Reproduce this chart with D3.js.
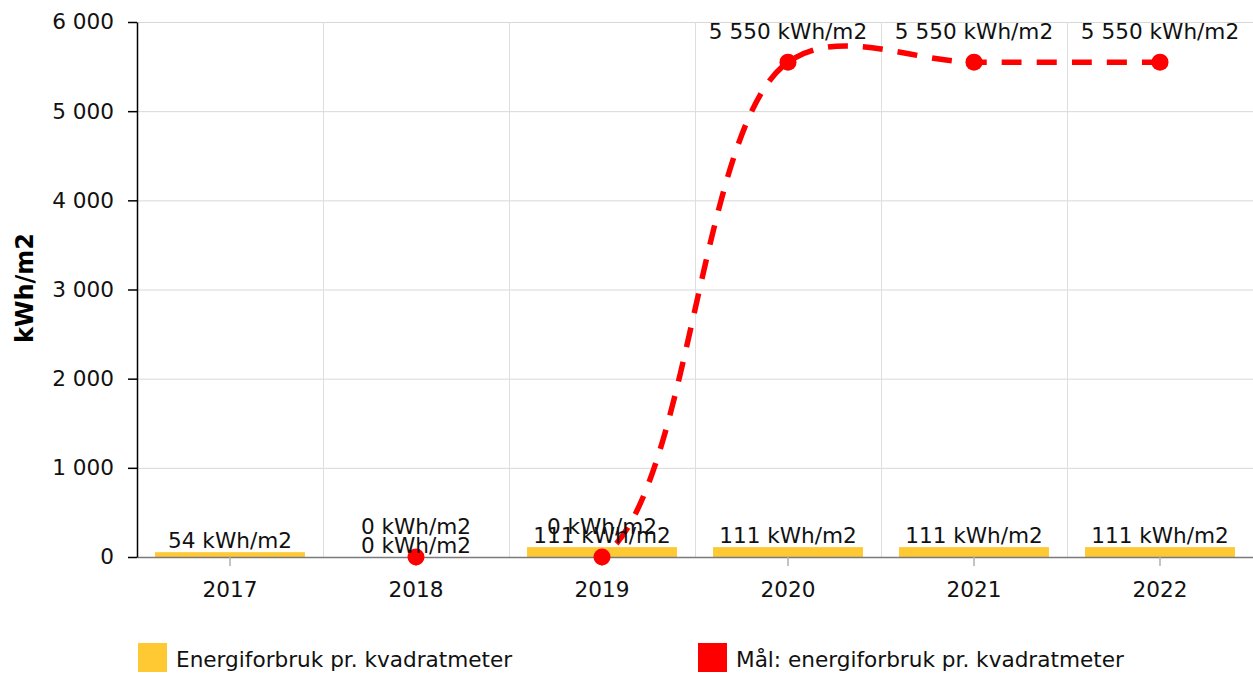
<!DOCTYPE html>
<html><head><meta charset="utf-8">
<script src="https://cdn.jsdelivr.net/npm/d3@7"></script>
<style>
body{margin:0;background:#fff}
svg{display:block;font-family:"DejaVu Sans",Verdana,sans-serif}
</style></head>
<body><svg id="chart" width="1253" height="673"></svg>
<script>
// ---- data ----
const categories = ["2017", "2018", "2019", "2020", "2021", "2022"];
const energyValues = [54, 0, 111, 111, 111, 111];
const targetValues = [null, 0, 0, 5550, 5550, 5550];
const yTickValues = [0, 1000, 2000, 3000, 4000, 5000, 6000];
const seriesNames = ["Energiforbruk pr. kvadratmeter", "Mål: energiforbruk pr. kvadratmeter"];
const yAxisTitle = "kWh/m2";
const unit = " kWh/m2";

(function () {
// ---- setup ----
const pL = 137, pR = 1253, pT = 22, pB = 557;
const FS = 21.6;
const colBar = "#FFC934", colLine = "#FF0000";
const svg = d3.select("#chart");
const loc = d3.formatLocale({decimal: ",", thousands: " ", grouping: [3], currency: ["", ""]});
const fmt = loc.format(",");

const x = d3.scaleBand().domain(categories).range([pL, pR]).padding(0);
const y = d3.scaleLinear().domain([0, 6000]).range([pB, pT]);
const cx = c => x(c) + x.bandwidth() / 2;
const barW = x.bandwidth() * 0.806;

// grid horizontal
svg.append("g").selectAll("line").data(yTickValues).join("line")
  .attr("x1", pL).attr("x2", pR)
  .attr("y1", d => y(d) + 0.5).attr("y2", d => y(d) + 0.5)
  .attr("stroke", "#d8d8d8").attr("stroke-width", 1);
// grid vertical at band boundaries
svg.append("g").selectAll("line").data(categories.slice(1)).join("line")
  .attr("x1", d => x(d) + 0.5).attr("x2", d => x(d) + 0.5)
  .attr("y1", pT).attr("y2", pB)
  .attr("stroke", "#dedede").attr("stroke-width", 1);

// bars
svg.append("g").selectAll("rect").data(categories).join("rect")
  .attr("x", (d) => cx(d) - barW / 2)
  .attr("width", barW)
  .attr("y", (d, i) => y(energyValues[i]))
  .attr("height", (d, i) => pB - y(energyValues[i]))
  .attr("fill", colBar);

// x axis line + ticks
const xAxis = d3.axisBottom(x).tickSize(9).tickPadding(16).tickSizeOuter(0);
const gx = svg.append("g").attr("transform", `translate(0,${pB})`).call(xAxis);
gx.select(".domain").attr("stroke", "#7a7a7a").attr("stroke-width", 1.5);
gx.selectAll(".tick line").attr("stroke", "#b0b0b0").attr("stroke-width", 1.5);
gx.selectAll(".tick text").attr("font-size", FS).attr("fill", "#111").attr("font-family", '"DejaVu Sans",Verdana,sans-serif');

// y axis
const yAxis = d3.axisLeft(y).tickValues(yTickValues).tickFormat(fmt).tickSize(9).tickPadding(14).tickSizeOuter(0);
const gy = svg.append("g").attr("transform", `translate(${pL},0)`).call(yAxis);
gy.select(".domain").attr("stroke", "#000").attr("stroke-width", 1.5);
gy.selectAll(".tick line").attr("stroke", "#000").attr("stroke-width", 1.5);
gy.selectAll(".tick text").attr("font-size", FS).attr("fill", "#111").attr("font-family", '"DejaVu Sans",Verdana,sans-serif');

// y axis title
svg.append("text")
  .attr("transform", `translate(33,288) rotate(-90)`)
  .attr("text-anchor", "middle")
  .attr("font-size", 24).attr("font-weight", "bold").attr("fill", "#000")
  .text(yAxisTitle);

// line series
const pts = [];
categories.forEach((c, i) => { if (targetValues[i] != null) pts.push({c: c, v: targetValues[i]}); });
const lineGen = d3.line().x(d => cx(d.c)).y(d => y(d.v)).curve(d3.curveCatmullRom.alpha(0.5));
svg.append("clipPath").attr("id", "clip").append("rect")
  .attr("x", pL).attr("y", pT - 10).attr("width", pR - pL).attr("height", pB - pT + 8);
svg.append("path").attr("d", lineGen(pts))
  .attr("fill", "none").attr("stroke", colLine).attr("stroke-width", 5.5)
  .attr("stroke-dasharray", "20,15").attr("clip-path", "url(#clip)");
svg.append("g").selectAll("circle").data(pts).join("circle")
  .attr("cx", d => cx(d.c)).attr("cy", d => y(d.v)).attr("r", 8.5).attr("fill", colLine);

// data labels
const lbl = svg.append("g").attr("font-size", FS).attr("fill", "#111").attr("text-anchor", "middle");
categories.forEach((c, i) => {
  lbl.append("text").attr("x", cx(c)).attr("y", y(energyValues[i]) - 4).text(fmt(energyValues[i]) + unit);
});
categories.forEach((c, i) => {
  if (targetValues[i] == null) return;
  lbl.append("text").attr("x", cx(c)).attr("y", y(targetValues[i]) - 23).text(fmt(targetValues[i]) + unit);
});

// legend
const legend = svg.append("g");
const legItems = [{name: seriesNames[0], color: colBar, x: 138}, {name: seriesNames[1], color: colLine, x: 698}];
legItems.forEach(it => {
  legend.append("rect").attr("x", it.x).attr("y", 643).attr("width", 29).attr("height", 29).attr("fill", it.color);
  legend.append("text").attr("x", it.x + 38).attr("y", 667).attr("font-size", FS).attr("fill", "#111").text(it.name);
});
})();
</script>
</body></html>
